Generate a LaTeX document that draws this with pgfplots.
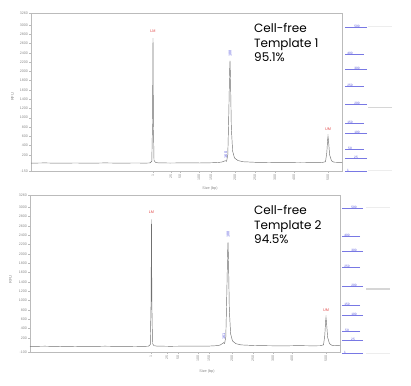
\documentclass[border=0pt]{standalone}
\usepackage{pgfplots}
\pgfplotsset{compat=1.18}
\usepackage{fontspec}
\setmainfont{Liberation Sans}
\newfontfamily\pop{Poppins}
\definecolor{axgray}{HTML}{BBBBBB}
\definecolor{tkgray}{HTML}{888888}
\definecolor{trace}{HTML}{707070}
\definecolor{lmred}{HTML}{E04848}
\definecolor{ladblue}{HTML}{5555DD}
\definecolor{ladline}{RGB}{120,120,228}
\pgfplotsset{
  ep/.style={
    anchor=south west, scale only axis,
    axis line style={axgray, line width=0.5pt},
    tick style={axgray, line width=0.4pt},
    tick align=outside, major tick length=2pt,
    xtick pos=bottom, ytick pos=left,
    ticklabel style={font=\fontsize{3.6}{4}\selectfont, text=tkgray},
    /pgf/number format/assume math mode=true,
    /pgf/number format/1000 sep={},
    xticklabel style={rotate=90, anchor=east, inner sep=1pt},
    yticklabel style={inner sep=1pt},
    scaled y ticks=false,
    clip=false,
  },
  dash/.style={only marks, mark=-, mark size=#1, color=ladline, mark options={line width=0.55pt, draw=ladline}, forget plot},
}
\tikzset{ladl/.style={font=\fontsize{3.2}{4}\selectfont, text=ladblue, inner sep=0.3pt}}
\begin{document}
\begin{tikzpicture}
\path[use as bounding box] (0,0) rectangle (411pt,385pt);
% ---------- top panel ----------
\begin{axis}[ep, at={(31pt,214pt)}, width=311pt, height=158pt,
  xmin=31, xmax=342, ymin=-150, ymax=3260,
  ytick={-150,200,400,600,800,1000,1200,1400,1600,1800,2000,2200,2400,2600,2800,3000,3260},
  xtick={153,171,180,199,211,235,255,275,294,328},
  xticklabels={1,25,50,100,150,200,250,300,400,500}]
\addplot[trace, line width=0.45pt] coordinates {
(31,20)(45,24)(60,18)(75,23)(90,19)(105,24)(120,20)(135,23)(146,21)(150,24)
(151.8,60)(152.5,900)(153,2720)(153.4,900)(154,80)(155.5,35)(158,26)
(170,22)(185,25)(200,23)(212,28)(219,35)(222,45)(224,62)(225.6,72)(226.6,60)
(227.8,200)(228.8,1100)(229.6,2000)(230,2230)(230.5,1850)(231.3,800)(232.6,280)
(234.5,130)(238,75)(243,50)(255,38)(270,33)(285,30)(300,34)(315,31)(322,33)
(325.5,50)(326.8,250)(327.6,520)(328,600)(328.6,480)(329.6,200)(331.5,70)(334,40)(342,34)};
\node[font=\fontsize{3.8}{4}\selectfont, text=lmred, anchor=south] at (axis cs:153,2760) {LM};
\node[font=\fontsize{3.8}{4}\selectfont, text=ladblue, rotate=90, anchor=west, inner sep=1pt] at (axis cs:230,2300) {188};
\node[font=\fontsize{3.8}{4}\selectfont, text=ladblue, rotate=90, anchor=west, inner sep=1pt] at (axis cs:225.8,100) {160};
\node[font=\fontsize{3.8}{4}\selectfont, text=lmred, anchor=south] at (axis cs:328,640) {UM};
\node[font=\fontsize{4}{4}\selectfont, text=tkgray, rotate=90] at (axis cs:12.5,1450) {RFU};
\node[font=\fontsize{3.8}{4}\selectfont, text=tkgray] at (axis cs:210,-520) {Size (bp)};
\node[font=\pop\fontsize{12}{14.5}\selectfont, anchor=north west, align=left, inner sep=0pt] at (axis cs:254,3040) {Cell-free\\Template 1\\95.1\%};
\end{axis}
% ---------- bottom panel ----------
\begin{axis}[ep, at={(30pt,33pt)}, width=310pt, height=157pt,
  xmin=30, xmax=340, ymin=-100, ymax=3260,
  ytick={-100,200,400,600,800,1000,1200,1400,1600,1800,2000,2200,2400,2600,2800,3000,3260},
  xtick={151,167,178,198,209,232,253,273,292,326},
  xticklabels={1,25,50,100,150,200,250,300,400,500}]
\addplot[trace, line width=0.45pt] coordinates {
(30,20)(45,24)(60,18)(75,23)(90,19)(105,24)(120,20)(135,23)(144,21)(148.5,24)
(150.3,60)(151,900)(151.5,2740)(151.9,900)(152.5,80)(154,35)(157,26)
(170,22)(185,25)(200,24)(210,28)(217,36)(220,48)(222,75)(223.6,100)(224.6,82)
(225.8,220)(226.8,1150)(227.6,2020)(228,2250)(228.5,1870)(229.3,820)(230.6,290)
(232.5,135)(236,78)(241,52)(253,40)(268,34)(283,31)(298,36)(313,32)(320,34)
(323.5,52)(324.8,260)(325.6,560)(326,640)(326.6,510)(327.6,215)(329.5,78)(332,42)(340,34)};
\node[font=\fontsize{3.8}{4}\selectfont, text=lmred, anchor=south] at (axis cs:151.5,2780) {LM};
\node[font=\fontsize{3.8}{4}\selectfont, text=ladblue, rotate=90, anchor=west, inner sep=1pt] at (axis cs:228,2320) {188};
\node[font=\fontsize{3.8}{4}\selectfont, text=ladblue, rotate=90, anchor=west, inner sep=1pt] at (axis cs:223.8,140) {161};
\node[font=\fontsize{3.8}{4}\selectfont, text=lmred, anchor=south] at (axis cs:326,680) {UM};
\node[font=\fontsize{4}{4}\selectfont, text=tkgray, rotate=90] at (axis cs:10.5,1450) {RFU};
\node[font=\fontsize{3.8}{4}\selectfont, text=tkgray] at (axis cs:207,-520) {Size (bp)};
\node[font=\pop\fontsize{12}{14.5}\selectfont, anchor=north west, align=left, inner sep=0pt] at (axis cs:254,3040) {Cell-free\\Template 2\\94.5\%};
\end{axis}
% ---------- gel ladders (pixel coordinates, y = 385 - row) ----------
\begin{axis}[at={(0pt,0pt)}, anchor=south west, scale only axis, width=411pt, height=385pt,
  xmin=0, xmax=411, ymin=0, ymax=385, hide axis, clip=false]
% gel bands (as wide dash marks)
\addplot[only marks, mark=-, mark size=12pt, forget plot, mark options={line width=1.6pt, draw=black!16}] coordinates {(380,277.5)(377.5,96)};
\addplot[only marks, mark=-, mark size=12pt, forget plot, mark options={line width=1pt, draw=black!7}] coordinates {(380,358)(380,214)(377.5,177)(377.5,32)};
% ladder size lines
\addplot[dash=11pt] coordinates {(356,358)(356,316)(356,281)(356,252)(356,227)(356,214)};
\addplot[dash=9.4pt] coordinates {(354.4,331)(354.4,299)(354.4,262)(354.4,236)};
\addplot[dash=10.5pt] coordinates {(352.5,177)(352.5,134)(352.5,99)(352.5,70)(352.5,45)(352.5,32)};
\addplot[dash=9pt] coordinates {(351,149)(351,118)(351,80)(351,54)};
\node[ladl] at (axis cs:357,358.5) {500};
\node[ladl] at (axis cs:350,331.5) {400};
\node[ladl] at (axis cs:357,316.5) {300};
\node[ladl] at (axis cs:350,299.5) {250};
\node[ladl] at (axis cs:357,281.5) {200};
\node[ladl] at (axis cs:350,262.5) {150};
\node[ladl] at (axis cs:357,252.5) {100};
\node[ladl] at (axis cs:350,236.5) {50};
\node[ladl] at (axis cs:356,227.5) {25};
\node[ladl] at (axis cs:348,214.5) {1};
\node[ladl] at (axis cs:354,177.5) {500};
\node[ladl] at (axis cs:347,149.5) {400};
\node[ladl] at (axis cs:354,134.5) {300};
\node[ladl] at (axis cs:347,118.5) {250};
\node[ladl] at (axis cs:354,99.5) {200};
\node[ladl] at (axis cs:347,80.5) {150};
\node[ladl] at (axis cs:354,70.5) {100};
\node[ladl] at (axis cs:347,54.5) {50};
\node[ladl] at (axis cs:353,45.5) {25};
\node[ladl] at (axis cs:345,32.5) {1};
\end{axis}
\end{tikzpicture}
\end{document}
